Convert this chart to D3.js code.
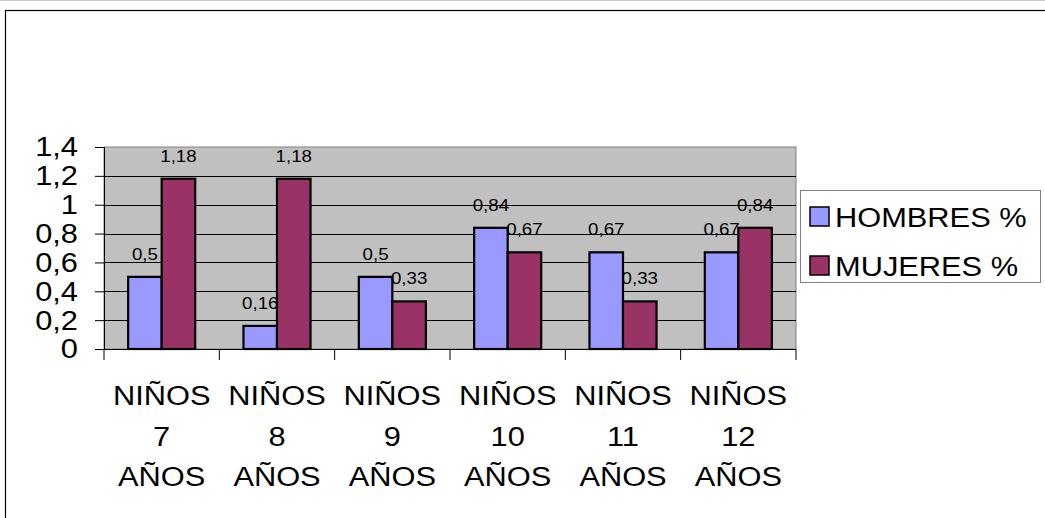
<!DOCTYPE html>
<html>
<head>
<meta charset="utf-8">
<script src="https://cdn.jsdelivr.net/npm/d3@7.9.0/dist/d3.min.js"></script>
<style>
  html, body { margin: 0; padding: 0; background: #fff; }
  svg { display: block; font-family: "Liberation Sans", Arial, sans-serif; }
</style>
</head>
<body>
<svg id="chart" width="1045" height="518"></svg>
<script>
// data
const categories = ['7', '8', '9', '10', '11', '12'];
const categoryLines = [
  ['NIÑOS', '7', 'AÑOS'],
  ['NIÑOS', '8', 'AÑOS'],
  ['NIÑOS', '9', 'AÑOS'],
  ['NIÑOS', '10', 'AÑOS'],
  ['NIÑOS', '11', 'AÑOS'],
  ['NIÑOS', '12', 'AÑOS']
];
const seriesNames = ['HOMBRES %', 'MUJERES %'];
const hombres = [0.5, 0.16, 0.5, 0.84, 0.67, 0.67];
const mujeres = [1.18, 1.18, 0.33, 0.67, 0.33, 0.84];
const yTicks = [0, 0.2, 0.4, 0.6, 0.8, 1, 1.2, 1.4];
const colors = ['#9999FF', '#993366'];

const svg = d3.select('#chart');
const plotLeft = 104, plotRight = 796, plotTop = 147, plotBottom = 349;
const stretch = 1.1; // text in the picture is a little wider than Arial

const fmt = (v) => String(v).replace('.', ',');

// outer chart frame (runs off the right and bottom)
svg.append('line').attr('x1', 0).attr('x2', 1045).attr('y1', 0.5).attr('y2', 0.5)
  .attr('stroke', '#c8c8c8');
svg.append('rect')
  .attr('x', 5.5).attr('y', 10.5).attr('width', 1060).attr('height', 540)
  .attr('fill', 'none').attr('stroke', '#000').attr('stroke-width', 1.2);

const x0 = d3.scaleBand().domain(categories).range([plotLeft, plotRight]);
const x1 = d3.scaleBand().domain(seriesNames).range([0, x0.bandwidth()]).paddingOuter(0.72);
const y = d3.scaleLinear().domain([0, 1.4]).range([plotBottom, plotTop]);

// plot background
svg.append('rect')
  .attr('x', plotLeft).attr('y', plotTop)
  .attr('width', plotRight - plotLeft).attr('height', plotBottom - plotTop)
  .attr('fill', '#C0C0C0').attr('stroke', '#808080').attr('stroke-width', 1);

// gridlines
svg.append('g').selectAll('line')
  .data(yTicks.filter(t => t > 0 && t < 1.4))
  .join('line')
  .attr('x1', plotLeft).attr('x2', plotRight)
  .attr('y1', d => Math.round(y(d)) + 0.5).attr('y2', d => Math.round(y(d)) + 0.5)
  .attr('stroke', '#000').attr('stroke-width', 1);

// y axis
const yAxis = svg.append('g')
  .attr('transform', `translate(${plotLeft},0)`)
  .call(d3.axisLeft(y).tickValues(yTicks).tickSize(9).tickFormat(fmt));
yAxis.select('.domain').attr('stroke', '#000');
yAxis.selectAll('.tick line').attr('stroke', '#000');
yAxis.selectAll('.tick text')
  .attr('x', 0)
  .attr('transform', `translate(-26,0) scale(${stretch},1)`)
  .attr('font-size', 28).attr('fill', '#000')
  .attr('font-family', '"Liberation Sans", Arial, sans-serif');

// x axis line and ticks between categories
svg.append('line')
  .attr('x1', plotLeft).attr('x2', plotRight)
  .attr('y1', plotBottom + 0.5).attr('y2', plotBottom + 0.5)
  .attr('stroke', '#000');
svg.append('g').selectAll('line')
  .data(d3.range(categories.length + 1))
  .join('line')
  .attr('x1', i => plotLeft + i * x0.step()).attr('x2', i => plotLeft + i * x0.step())
  .attr('y1', plotBottom).attr('y2', plotBottom + 11)
  .attr('stroke', '#000');

// bars
const rows = categories.map((c, i) => ({ cat: c, values: [hombres[i], mujeres[i]] }));
const groups = svg.append('g').selectAll('g')
  .data(rows)
  .join('g')
  .attr('transform', d => `translate(${x0(d.cat)},0)`);

groups.selectAll('rect')
  .data(d => d.values.map((v, k) => ({ v, k })))
  .join('rect')
  .attr('x', d => x1(seriesNames[d.k]))
  .attr('y', d => y(d.v))
  .attr('width', x1.bandwidth())
  .attr('height', d => plotBottom - y(d.v))
  .attr('fill', d => colors[d.k])
  .attr('stroke', '#000').attr('stroke-width', 2.2);

// value labels
groups.selectAll('text')
  .data(d => d.values.map((v, k) => ({ v, k })))
  .join('text')
  .attr('transform', d => `translate(${x1(seriesNames[d.k]) + x1.bandwidth() / 2},${y(d.v) - 17}) scale(${stretch},1)`)
  .attr('text-anchor', 'middle')
  .attr('font-size', 17)
  .text(d => fmt(d.v));

// category labels
const catLabels = svg.append('g').selectAll('g')
  .data(categories)
  .join('g');
catLabels.each(function (c, i) {
  const cx = x0(c) + x0.bandwidth() / 2;
  categoryLines[i].forEach((line, j) => {
    d3.select(this).append('text')
      .attr('transform', `translate(${cx},${405 + j * 40.5}) scale(${stretch},1)`)
      .attr('text-anchor', 'middle')
      .attr('font-size', 28)
      .text(line);
  });
});

// legend
svg.append('rect')
  .attr('x', 800.5).attr('y', 190.5).attr('width', 240).attr('height', 92)
  .attr('fill', '#fff').attr('stroke', '#808080');
const legendRows = svg.append('g').selectAll('g')
  .data(seriesNames)
  .join('g')
  .attr('transform', (d, i) => `translate(810,${207 + i * 49})`);
legendRows.append('rect')
  .attr('width', 19).attr('height', 19)
  .attr('fill', (d, i) => colors[i])
  .attr('stroke', '#000').attr('stroke-width', 1.5);
legendRows.append('text')
  .attr('transform', `translate(25,20) scale(${stretch},1)`)
  .attr('font-size', 28)
  .text(d => d);
</script>
</body>
</html>
